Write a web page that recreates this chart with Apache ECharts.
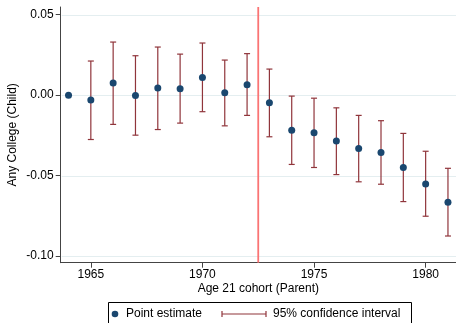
<!DOCTYPE html>
<html>
<head>
<meta charset="utf-8">
<script src="https://cdn.jsdelivr.net/npm/echarts@6/dist/echarts.min.js"></script>
<style>
  html, body { margin: 0; padding: 0; background: #fff; }
  #chart { width: 456px; height: 323px; }
</style>
</head>
<body>
<div id="chart"></div>
<script>
// Parent cohort (year turning 21)
var cohorts = [1964, 1965, 1966, 1967, 1968, 1969, 1970, 1971, 1972,
               1973, 1974, 1975, 1976, 1977, 1978, 1979, 1980, 1981];
// Point estimates (effect on child's college attendance)
var estimates = [0.0000, -0.0031, 0.0075, -0.0002, 0.0044, 0.0040, 0.0110, 0.0015, 0.0065,
                 -0.0047, -0.0218, -0.0234, -0.0286, -0.0332, -0.0357, -0.0450, -0.0552, -0.0666];
// 95% confidence bounds
var ciLower = [0.0000, -0.0276, -0.0182, -0.0249, -0.0214, -0.0174, -0.0103, -0.0191, -0.0126,
               -0.0259, -0.0431, -0.0450, -0.0494, -0.0539, -0.0554, -0.0662, -0.0753, -0.0876];
var ciUpper = [0.0000, 0.0212, 0.0330, 0.0245, 0.0299, 0.0255, 0.0324, 0.0218, 0.0258,
               0.0162, -0.0006, -0.0019, -0.0079, -0.0126, -0.0159, -0.0238, -0.0349, -0.0455];
// Axis ticks
var xTicks = [1965, 1970, 1975, 1980];
var yTicks = [-0.10, -0.05, 0.00, 0.05];
// Reform cutoff
var cutoff = 1972.5;

var navy = '#1a476f';
var maroon = '#90353b';
var font = '"Liberation Sans", Arial, sans-serif';

var chart = echarts.init(document.getElementById('chart'), null, { renderer: 'canvas' });

var pointData = cohorts.map(function (c, i) { return [c, estimates[i]]; });
var ciData = cohorts.map(function (c, i) { return [c, ciLower[i], ciUpper[i]]; });
var gridData = yTicks.map(function (t) { return [cohorts[0], t]; });

chart.setOption({
  animation: false,
  grid: { left: 60.7, right: 0, top: 7, bottom: 60.3, containLabel: false, outerBoundsMode: 'none' },
  xAxis: {
    type: 'value',
    min: 1963.65,
    max: 1981.36,
    name: 'Age 21 cohort (Parent)',
    nameLocation: 'middle',
    nameGap: 20,
    nameMoveOverlap: false,
    nameTextStyle: { fontFamily: font, fontSize: 12, color: '#000' },
    axisLine: { show: true, onZero: false, lineStyle: { color: '#444', width: 1 } },
    axisTick: { show: true, length: 5, lineStyle: { color: '#444' }, customValues: xTicks },
    axisLabel: { fontFamily: font, fontSize: 12, color: '#000', margin: 6, customValues: xTicks,
                 formatter: function (v) { return String(v); } },
    splitLine: { show: false }
  },
  yAxis: {
    type: 'value',
    min: -0.1042,
    max: 0.0548,
    name: 'Any College (Child)',
    nameLocation: 'middle',
    nameGap: 42,
    nameMoveOverlap: false,
    nameTextStyle: { fontFamily: font, fontSize: 12, color: '#000' },
    axisLine: { show: true, onZero: false, lineStyle: { color: '#444', width: 1 } },
    axisTick: { show: true, length: 5, lineStyle: { color: '#444' }, customValues: yTicks },
    axisLabel: { fontFamily: font, fontSize: 12, color: '#000', margin: 7, customValues: yTicks,
                 formatter: function (v) { return v.toFixed(2); } },
    splitLine: { show: false }
  },
  series: [
    {
      // horizontal reference lines at the labelled y values
      type: 'custom',
      data: gridData,
      silent: true,
      z: 1,
      renderItem: function (params, api) {
        var cs = params.coordSys;
        var p = api.coord([api.value(0), api.value(1)]);
        var y = Math.round(p[1]) + 0.5;
        return {
          type: 'line',
          shape: { x1: cs.x + 1, y1: y, x2: cs.x + cs.width, y2: y },
          style: { stroke: '#e4eef0', lineWidth: 1.2 }
        };
      }
    },
    {
      // reform cutoff
      type: 'custom',
      data: [[cutoff]],
      silent: true,
      z: 2,
      renderItem: function (params, api) {
        var cs = params.coordSys;
        var p = api.coord([api.value(0), 0]);
        return {
          type: 'line',
          shape: { x1: p[0], y1: cs.y, x2: p[0], y2: cs.y + cs.height },
          style: { stroke: '#fa7474', lineWidth: 1.8 }
        };
      }
    },
    {
      // confidence interval whiskers
      type: 'custom',
      data: ciData,
      encode: { x: 0, y: [1, 2] },
      z: 3,
      renderItem: function (params, api) {
        var x = api.value(0);
        var lo = api.coord([x, api.value(1)]);
        var hi = api.coord([x, api.value(2)]);
        var half = 3;
        var style = { stroke: maroon, lineWidth: 1.2 };
        return {
          type: 'group',
          children: [
            { type: 'line', shape: { x1: lo[0], y1: lo[1], x2: hi[0], y2: hi[1] }, style: style },
            { type: 'line', shape: { x1: lo[0] - half, y1: lo[1], x2: lo[0] + half, y2: lo[1] }, style: style },
            { type: 'line', shape: { x1: hi[0] - half, y1: hi[1], x2: hi[0] + half, y2: hi[1] }, style: style }
          ]
        };
      }
    },
    {
      type: 'scatter',
      data: pointData,
      symbol: 'circle',
      symbolSize: 7,
      itemStyle: { color: navy, opacity: 1 },
      z: 4
    }
  ],
  graphic: [
    { type: 'rect', shape: { x: 108.5, y: 302.5, width: 303, height: 40 },
      style: { fill: '#fff', stroke: '#000', lineWidth: 1 } },
    { type: 'circle', shape: { cx: 115, cy: 314, r: 3.3 }, style: { fill: navy } },
    { type: 'text', x: 126, y: 314,
      style: { text: 'Point estimate', fontFamily: font, fontSize: 12, fill: '#000', verticalAlign: 'middle' } },
    { type: 'line', shape: { x1: 222, y1: 314, x2: 266, y2: 314 }, style: { stroke: maroon, lineWidth: 1.2 } },
    { type: 'line', shape: { x1: 222, y1: 311, x2: 222, y2: 317 }, style: { stroke: maroon, lineWidth: 1.2 } },
    { type: 'line', shape: { x1: 266, y1: 311, x2: 266, y2: 317 }, style: { stroke: maroon, lineWidth: 1.2 } },
    { type: 'text', x: 273, y: 314,
      style: { text: '95% confidence interval', fontFamily: font, fontSize: 12, fill: '#000', verticalAlign: 'middle' } }
  ]
});
</script>
</body>
</html>
